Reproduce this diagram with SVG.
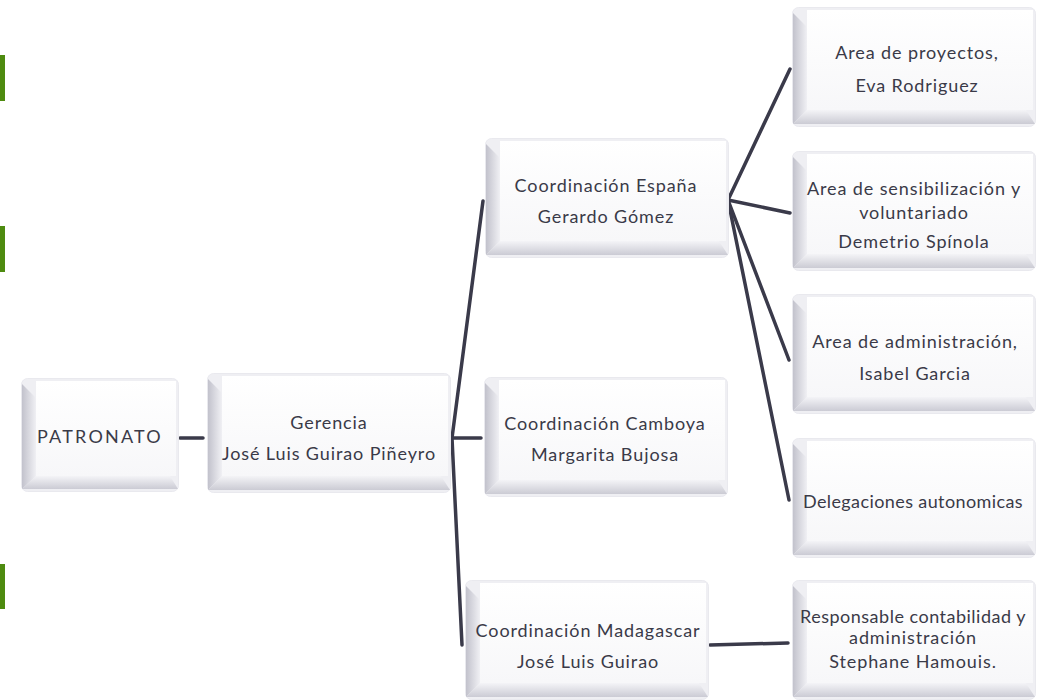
<svg xmlns="http://www.w3.org/2000/svg" width="1046" height="700" viewBox="0 0 1046 700">
<style>
  .t{font-family:Lato,"Open Sans","Liberation Sans",sans-serif;font-size:18px;letter-spacing:0.9px;fill:#3a3a48;text-anchor:middle}
  .ln{stroke:#3a3a4a;stroke-width:3.5;fill:none;stroke-linecap:round}
  .bar{fill:#4e8b10}
</style>
<defs>
  <linearGradient id="gl" x1="0" y1="0" x2="1" y2="0">
    <stop offset="0" stop-color="#c2c2cc"/>
    <stop offset="1" stop-color="#f0f0f4"/>
  </linearGradient>
  <linearGradient id="gb" x1="0" y1="0" x2="0" y2="1">
    <stop offset="0" stop-color="#f4f4f7"/>
    <stop offset="1" stop-color="#cbcbd4"/>
  </linearGradient>
  <linearGradient id="gf" x1="0" y1="0" x2="0" y2="1">
    <stop offset="0" stop-color="#ffffff"/>
    <stop offset="1" stop-color="#f7f7f9"/>
  </linearGradient>
  <symbol id="box" viewBox="0 0 244 120" width="244" height="120">
    <rect x="0.5" y="0.5" width="243" height="119" rx="6" fill="#efeff3" stroke="#e9e9ee"/>
    <polygon points="1,6 15,20 15,103 1,117" fill="url(#gl)"/>
    <polygon points="1,117 15,103 234,103 243,117" fill="url(#gb)"/>
    <rect x="15" y="3" width="226" height="100" fill="url(#gf)"/>
  </symbol>
  <symbol id="box2" viewBox="0 0 158 114" width="158" height="114">
    <rect x="0.5" y="0.5" width="157" height="113" rx="6" fill="#efeff3" stroke="#e9e9ee"/>
    <polygon points="1,6 15,20 15,98 1,111" fill="url(#gl)"/>
    <polygon points="1,111 15,98 149,98 157,111" fill="url(#gb)"/>
    <rect x="15" y="3" width="140" height="95" fill="url(#gf)"/>
  </symbol>
</defs>
<rect width="1046" height="700" fill="#ffffff"/>
<g id="bars">
  <rect class="bar" x="0" y="55" width="5" height="46"/>
  <rect class="bar" x="0" y="226" width="5" height="46"/>
  <rect class="bar" x="0" y="564" width="5" height="45"/>
</g>
<g id="connectors">
  <line class="ln" x1="180" y1="438" x2="203" y2="438"/>
  <polyline class="ln" points="483,201 452,438 462,645"/>
  <line class="ln" x1="452" y1="438" x2="481" y2="438"/>
  <line class="ln" x1="728" y1="200" x2="790" y2="69"/>
  <line class="ln" x1="728" y1="200" x2="790" y2="213"/>
  <line class="ln" x1="728" y1="200" x2="789" y2="360"/>
  <line class="ln" x1="728" y1="200" x2="789" y2="500"/>
  <line class="ln" x1="710" y1="645" x2="788" y2="643"/>
</g>
<g id="patronato">
  <use href="#box2" x="21" y="378"/>
  <text class="t" x="100" y="443" style="letter-spacing:2.2px">PATRONATO</text>
</g>
<g id="gerencia">
  <use href="#box" x="207" y="373"/>
  <text class="t" x="329" y="429">Gerencia</text>
  <text class="t" x="329" y="460">José Luis Guirao Piñeyro</text>
</g>
<g id="espana">
  <use href="#box" x="485" y="138"/>
  <text class="t" x="606" y="192">Coordinación España</text>
  <text class="t" x="606" y="223">Gerardo Gómez</text>
</g>
<g id="camboya">
  <use href="#box" x="484" y="377"/>
  <text class="t" x="605" y="430">Coordinación Camboya</text>
  <text class="t" x="605" y="461">Margarita Bujosa</text>
</g>
<g id="madagascar">
  <use href="#box" x="465" y="580"/>
  <text class="t" x="588" y="637">Coordinación Madagascar</text>
  <text class="t" x="588" y="668">José Luis Guirao</text>
</g>
<g id="proyectos">
  <use href="#box" x="792" y="7"/>
  <text class="t" x="917" y="59">Area de proyectos,</text>
  <text class="t" x="917" y="92">Eva Rodriguez</text>
</g>
<g id="sensibilizacion">
  <use href="#box" x="792" y="151"/>
  <text class="t" x="914" y="195">Area de sensibilización y</text>
  <text class="t" x="914" y="219">voluntariado</text>
  <text class="t" x="914" y="248">Demetrio Spínola</text>
</g>
<g id="administracion">
  <use href="#box" x="792" y="294"/>
  <text class="t" x="915" y="348">Area de administración,</text>
  <text class="t" x="915" y="380">Isabel Garcia</text>
</g>
<g id="delegaciones">
  <use href="#box" x="792" y="438"/>
  <text class="t" x="913" y="508" style="letter-spacing:0.4px">Delegaciones autonomicas</text>
</g>
<g id="responsable">
  <use href="#box" x="792" y="580"/>
  <text class="t" x="913" y="623" style="letter-spacing:0.5px">Responsable contabilidad y</text>
  <text class="t" x="913" y="644">administración</text>
  <text class="t" x="913" y="668">Stephane Hamouis.</text>
</g>
</svg>
